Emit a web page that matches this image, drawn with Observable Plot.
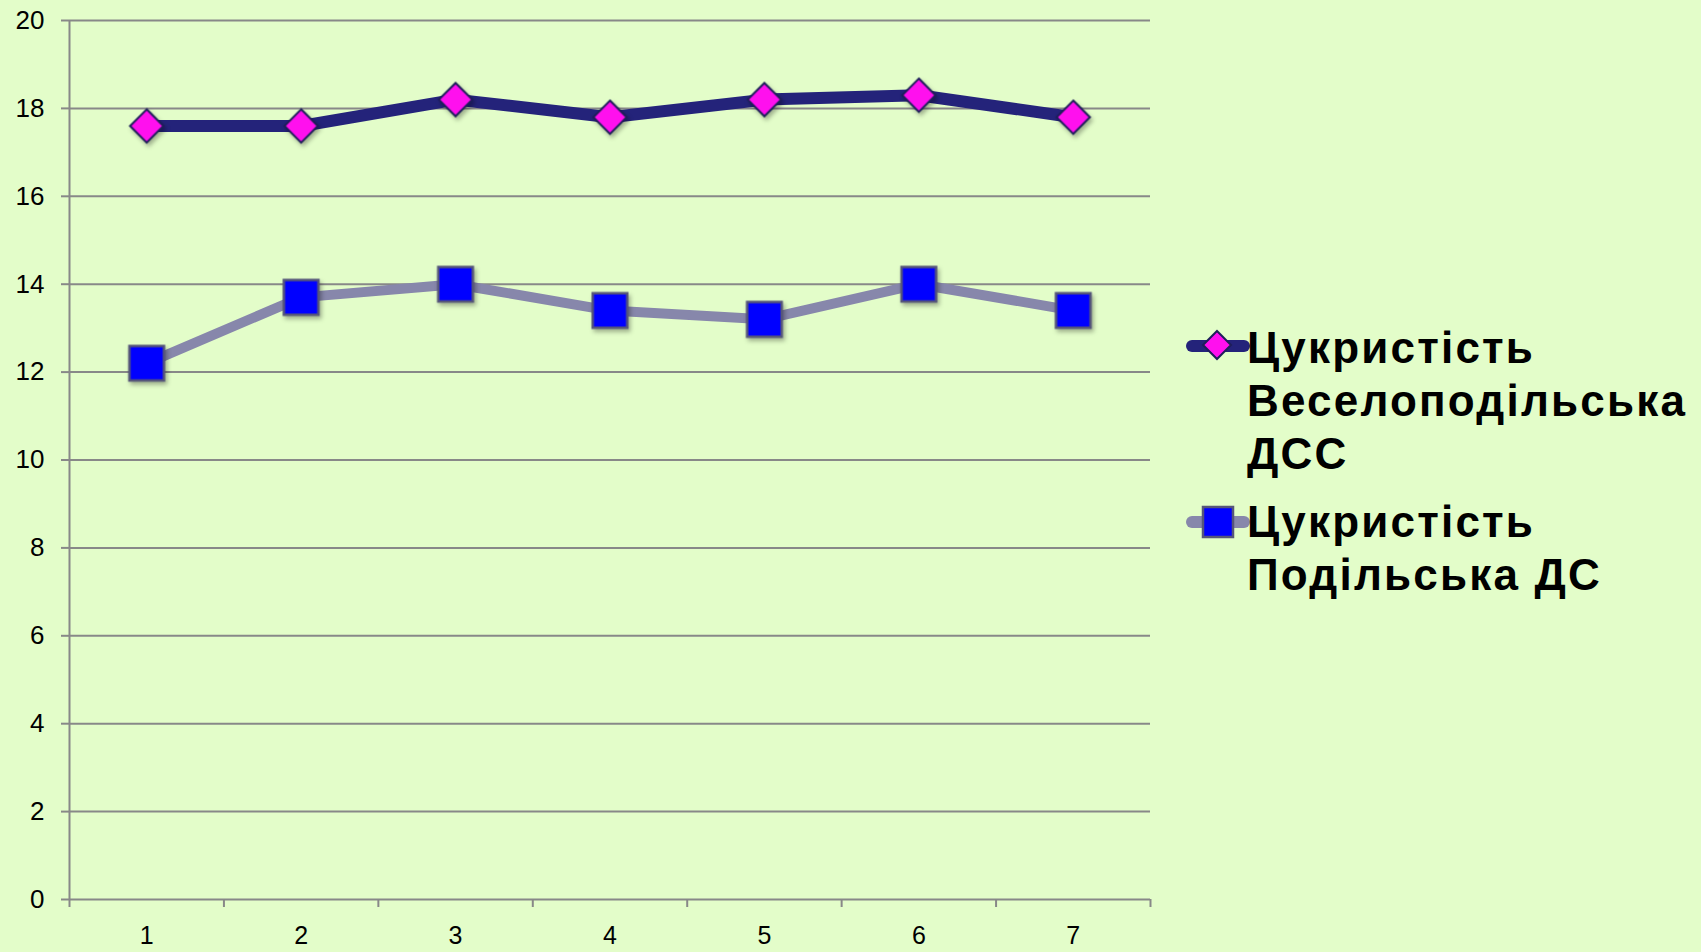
<!DOCTYPE html>
<html>
<head>
<meta charset="utf-8">
<script src="https://cdn.jsdelivr.net/npm/d3@7"></script>
<script src="https://cdn.jsdelivr.net/npm/@observablehq/plot@0.6"></script>
<style>
  html, body { margin: 0; padding: 0; background: #e3fdc9; }
  #wrap { position: relative; width: 1701px; height: 952px; overflow: hidden; font-family: "Liberation Sans", Arial, sans-serif; }
  #wrap svg.plot { position: absolute; left: 0; top: 0; }
  g[aria-label="dot"] { filter: drop-shadow(2px 3px 2px rgba(0,0,0,0.3)); }
  .leg { position: absolute; left: 1186px; }
  .leg svg { position: absolute; left: 0; }
  .leg .txt { position: absolute; left: 61px; top: 0; font-weight: bold; font-size: 44px; letter-spacing: 2.2px; line-height: 53px; color: #000; white-space: nowrap; }
</style>
</head>
<body>
<div id="wrap"></div>
<script>
const categories = [1, 2, 3, 4, 5, 6, 7];
const veselo = [17.6, 17.6, 18.2, 17.8, 18.2, 18.3, 17.8];
const podilska = [12.2, 13.7, 14.0, 13.4, 13.2, 14.0, 13.4];
const yTicks = [0, 2, 4, 6, 8, 10, 12, 14, 16, 18, 20];
const bandEdges = [0.5, 1.5, 2.5, 3.5, 4.5, 5.5, 6.5, 7.5];
const seriesNames = ["Цукристість Веселоподільська ДСС", "Цукристість Подільська ДС"];
const legendLines = [["Цукристість", "Веселоподільська", "ДСС"], ["Цукристість", "Подільська ДС"]];

const s1 = categories.map((c, i) => ({x: c, y: veselo[i]}));
const s2 = categories.map((c, i) => ({x: c, y: podilska[i]}));

const gridColor = "#888888";

const chart = Plot.plot({
  width: 1701,
  height: 952,
  marginLeft: 69,
  marginRight: 551,
  marginTop: 20,
  marginBottom: 53,
  style: {background: "transparent", fontFamily: "'Liberation Sans', Arial, sans-serif", fontSize: "26px", color: "#000", overflow: "visible"},
  x: {type: "linear", domain: [0.5, 7.5]},
  y: {domain: [0, 20]},
  marks: [
    Plot.gridY(yTicks, {stroke: gridColor, strokeOpacity: 1, strokeWidth: 2}),
    Plot.ruleX([0.5], {stroke: gridColor, strokeWidth: 2}),
    Plot.axisY({ticks: yTicks, tickSize: 8, tickPadding: 17, stroke: gridColor, strokeWidth: 2, strokeOpacity: 1, fontSize: 26, fill: "#000", label: null}),
    Plot.axisX({ticks: bandEdges, tickSize: 8, tickFormat: () => "", stroke: gridColor, strokeWidth: 2, strokeOpacity: 1, label: null}),
    Plot.axisX({ticks: categories, tickSize: 0, tickPadding: 27, fontSize: 25, fill: "#000", tickFormat: d => String(d), label: null}),
    Plot.line(s2, {x: "x", y: "y", stroke: "#8787ab", strokeWidth: 10, strokeLinejoin: "round", strokeLinecap: "round"}),
    Plot.line(s1, {x: "x", y: "y", stroke: "#24237a", strokeWidth: 12, strokeLinejoin: "round", strokeLinecap: "round"}),
    Plot.dot(s2, {x: "x", y: "y", symbol: "square", r: 19.5, fill: "#0000ff", stroke: "#55557a", strokeWidth: 2.5}),
    Plot.dot(s1, {x: "x", y: "y", symbol: "diamond2", r: 15, fill: "#ff10ee", stroke: "#1e1e5a", strokeWidth: 2})
  ]
});
chart.classList.add("plot");
const wrap = document.getElementById("wrap");
wrap.appendChild(chart);

// Legend (HTML, outside the SVG plot frame)
const legendTops = [321, 495];
const swatchMid = [25, 27];
legendLines.forEach((lines, i) => {
  const item = document.createElement("div");
  item.className = "leg";
  item.style.top = legendTops[i] + "px";
  item.setAttribute("title", seriesNames[i]);
  const sw = d3.create("svg").attr("width", 64).attr("height", 40).style("top", (swatchMid[i] - 20) + "px");
  sw.append("line").attr("x1", 6).attr("x2", 58).attr("y1", 20).attr("y2", 20)
    .attr("stroke", i === 0 ? "#24237a" : "#8787ab").attr("stroke-width", 12).attr("stroke-linecap", "round");
  if (i === 0) {
    sw.append("path").attr("d", d3.symbol(d3.symbolDiamond2, 500)()).attr("transform", "translate(31,19)")
      .attr("fill", "#ff10ee").attr("stroke", "#1e1e5a").attr("stroke-width", 2);
  } else {
    sw.append("path").attr("d", d3.symbol(d3.symbolSquare, 900)()).attr("transform", "translate(32,20)")
      .attr("fill", "#0000ff").attr("stroke", "#55557a").attr("stroke-width", 2.5);
  }
  item.appendChild(sw.node());
  const txt = document.createElement("div");
  txt.className = "txt";
  txt.innerHTML = lines.join("<br>");
  item.appendChild(txt);
  wrap.appendChild(item);
});
</script>
</body>
</html>
